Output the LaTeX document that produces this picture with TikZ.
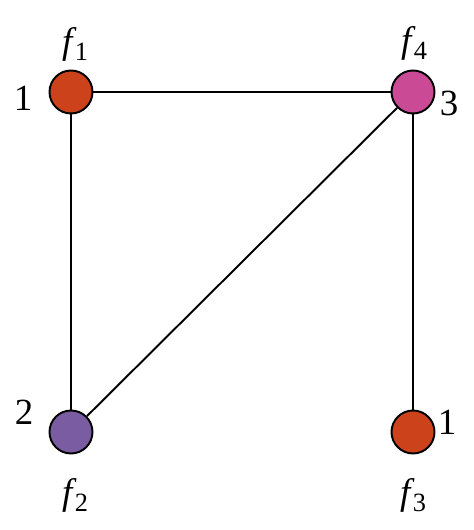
\documentclass[tikz,border=0pt]{standalone}
\usepackage{fontspec}
\setmainfont{Liberation Serif}
\definecolor{colorange}{RGB}{204,66,26}
\definecolor{colpink}{RGB}{202,74,150}
\definecolor{colpurple}{RGB}{122,92,162}
\newcommand{\fname}[1]{\textit{f}\kern-1pt\raisebox{-0.45ex}{\fontsize{15}{17}\selectfont #1}}
\tikzset{
    vertex/.style={circle, draw, line width=1.1pt, minimum size=0.86cm, inner sep=0pt},
    edge/.style={line width=1.1pt},
    lbl/.style={font=\fontsize{21}{24}\selectfont, inner sep=0pt}
}
\begin{document}
\begin{tikzpicture}[scale=1, transform shape]
    \useasboundingbox (0,0) rectangle (9.48,10.6);

    % Define the vertices
    \node[vertex, fill=colorange] (f1) at (1.42,8.76) {};
    \node[vertex, fill=colpink] (f4) at (8.26,8.76) {};
    \node[vertex, fill=colpurple] (f2) at (1.42,1.96) {};
    \node[vertex, fill=colorange] (f3) at (8.26,1.96) {};

    % Draw the edges
    \draw[edge] (f1) -- (f4);
    \draw[edge] (f1) -- (f2);
    \draw[edge] (f4) -- (f2);
    \draw[edge] (f4) -- (f3);

    % Place the colour numbers
    \node[lbl] (n1) at (0.46,8.64) {1};
    \node[lbl] (n4) at (8.98,8.54) {3};
    \node[lbl] (n2) at (0.48,2.36) {2};
    \node[lbl] (n3) at (8.94,2.16) {1};

    % Place the function labels
    \node[lbl] (l1) at (1.5,9.72) {\fname{1}};
    \node[lbl] (l4) at (8.28,9.74) {\fname{4}};
    \node[lbl] (l2) at (1.5,0.7) {\fname{2}};
    \node[lbl] (l3) at (8.26,0.7) {\fname{3}};

\end{tikzpicture}
\end{document}
